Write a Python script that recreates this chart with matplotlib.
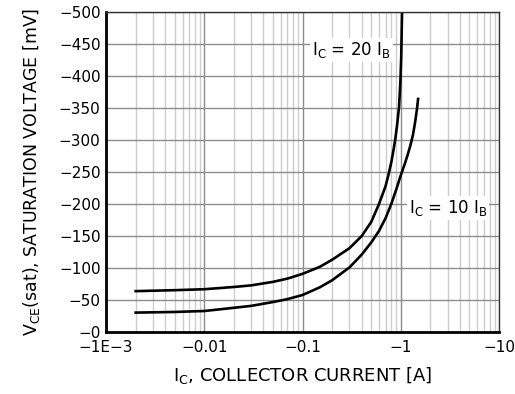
import matplotlib.pyplot as plt
import numpy as np
from matplotlib.ticker import FixedLocator, FixedFormatter, LogLocator, NullFormatter

plt.rcParams['font.family'] = 'DejaVu Sans'
plt.rcParams['axes.unicode_minus'] = True

# Magnitudes (PNP: chart labels are negative).
# Ic = 20 Ib
ic_20 = [0.002, 0.005, 0.01, 0.02, 0.03, 0.05, 0.07, 0.1, 0.15, 0.2, 0.3,
         0.4, 0.5, 0.6, 0.7, 0.75, 0.8, 0.84, 0.88, 0.92, 0.96, 0.99,
         1.01, 1.02, 1.03]
vce_20 = [64, 65.5, 67, 70.5, 73, 78.5, 83.5, 91, 102, 113, 131,
          150, 172, 200, 228, 246, 265, 283, 302, 325, 352, 390,
          430, 465, 500]
# Ic = 10 Ib
ic_10 = [0.002, 0.005, 0.01, 0.02, 0.03, 0.05, 0.07, 0.1, 0.15, 0.2, 0.3,
         0.4, 0.5, 0.6, 0.7, 0.8, 0.9, 1.0, 1.1, 1.17, 1.25, 1.33, 1.4,
         1.46, 1.5]
vce_10 = [30.5, 31.5, 33, 38, 41, 47, 51.5, 58, 70, 81, 101,
          121, 140, 158, 178, 200, 223, 245, 263, 276, 291, 308, 328,
          348, 364]

x_ticks = [1e-3, 1e-2, 1e-1, 1, 10]
x_labels = ['\u22121E\u22123', '\u22120.01', '\u22120.1', '\u22121', '\u221210']
y_ticks = list(range(0, 501, 50))
y_labels = ['\u2212%d' % v for v in y_ticks]

fig = plt.figure(figsize=(5.15, 3.94), dpi=100)
ax = fig.add_axes([0.206, 0.157, 0.763, 0.813])

ax.plot(ic_20, vce_20, color='black', lw=1.9, solid_joinstyle='round')
ax.plot(ic_10, vce_10, color='black', lw=1.9, solid_joinstyle='round')

ax.set_xscale('log')
ax.set_xlim(1e-3, 10)
ax.set_ylim(0, 500)

ax.xaxis.set_major_locator(FixedLocator(x_ticks))
ax.xaxis.set_major_formatter(FixedFormatter(x_labels))
ax.xaxis.set_minor_locator(LogLocator(base=10, subs=np.arange(2, 10)))
ax.xaxis.set_minor_formatter(NullFormatter())
ax.yaxis.set_major_locator(FixedLocator(y_ticks))
ax.yaxis.set_major_formatter(FixedFormatter(y_labels))

ax.grid(which='major', color='#8c8c8c', lw=1.0)
ax.grid(which='minor', axis='x', color='#cccccc', lw=1.0)
ax.set_axisbelow(True)

ax.tick_params(which='both', length=0, labelsize=11, pad=4)
ax.tick_params(axis='x', pad=6)

for s in ['left', 'bottom']:
    ax.spines[s].set_linewidth(2.0)
    ax.spines[s].set_color('black')
for s in ['top', 'right']:
    ax.spines[s].set_linewidth(1.0)
    ax.spines[s].set_color('#333333')

ax.set_xlabel(r'I$_\mathregular{C}$, COLLECTOR CURRENT [A]', fontsize=13, labelpad=7)
ax.set_ylabel(r'V$_\mathregular{CE}$(sat), SATURATION VOLTAGE [mV]', fontsize=12.5, labelpad=12)

box = dict(facecolor='white', edgecolor='none', pad=1.5)
ax.text(0.125, 440, r'I$_\mathregular{C}$ = 20 I$_\mathregular{B}$', fontsize=12,
        ha='left', va='center', bbox=box)
ax.text(1.2, 194, r'I$_\mathregular{C}$ = 10 I$_\mathregular{B}$', fontsize=12,
        ha='left', va='center', bbox=box)

fig.savefig('out.png', dpi=100)
